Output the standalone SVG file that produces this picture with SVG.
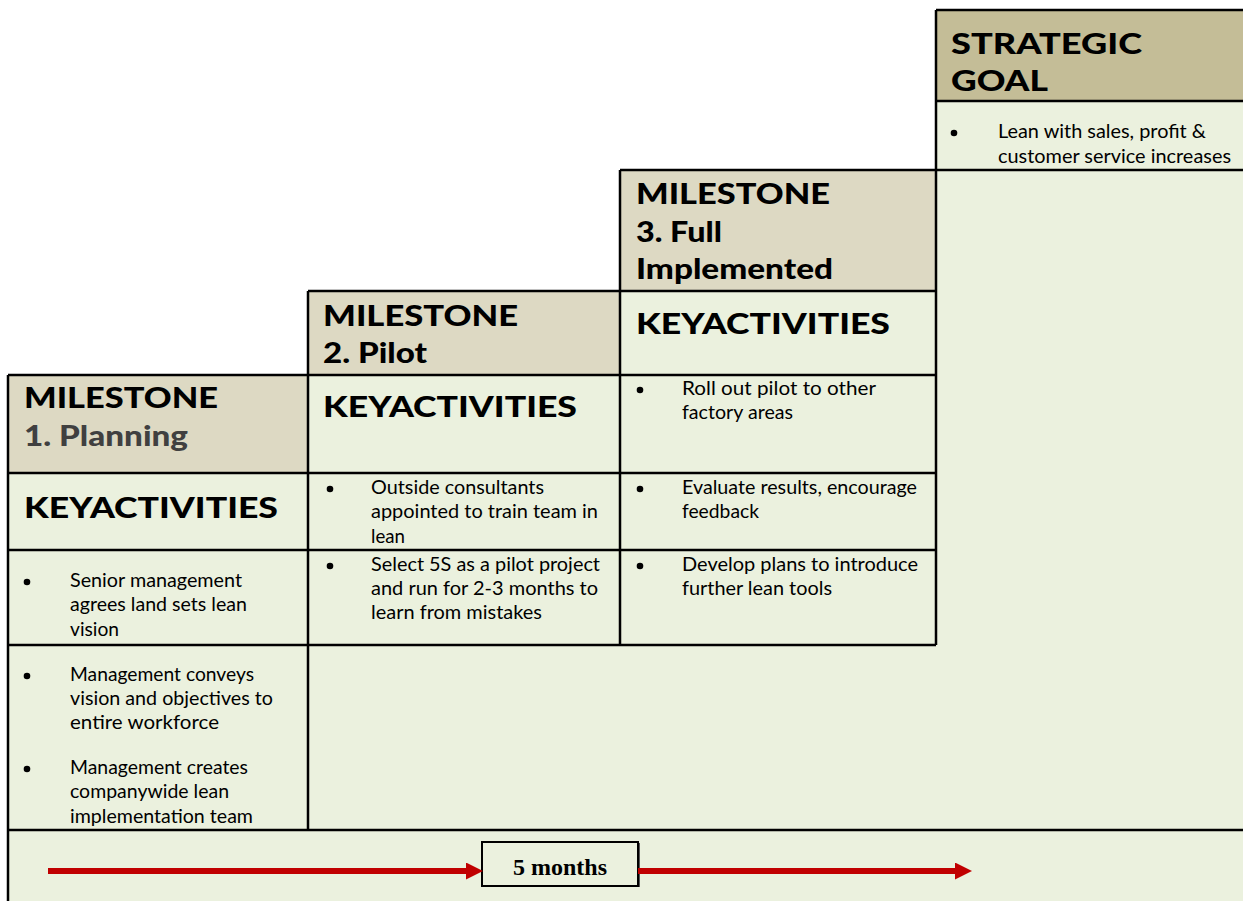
<svg xmlns="http://www.w3.org/2000/svg" width="1243" height="901" viewBox="0 0 1243 901">
  <defs>
    <style>
      .hdr { font-family: Lato, "Open Sans", "DejaVu Sans", sans-serif; font-weight: 900; font-size: 28px; fill: #000; }
      .hdr2 { fill: #404040; }
      .txt { font-family: Lato, "Open Sans", "DejaVu Sans", sans-serif; font-size: 19px; fill: #000; }
      .tan { fill: #ddd9c3; }
      .tanDark { fill: #c4bd97; }
      .green { fill: #ebf1de; }
      .grid { fill: none; stroke: #000; stroke-width: 2.5; }
      .bul { fill: #000; }
      .arrow { stroke: #c00000; stroke-width: 6; fill: none; }
      .months { font-family: "Liberation Serif", "Times New Roman", serif; font-weight: bold; font-size: 24px; fill: #000; }
    </style>
    <marker id="ah" markerUnits="userSpaceOnUse" markerWidth="18" markerHeight="18" refX="0" refY="8.5" orient="auto">
      <path d="M0,0 L17,8.5 L0,17 Z" fill="#c00000"/>
    </marker>
  </defs>

  <rect x="0" y="0" width="1243" height="901" fill="#ffffff"/>

  <!-- Strategic goal -->
  <g id="strategic-goal">
    <rect class="tanDark" x="936" y="10" width="307" height="91"/>
    <rect class="green" x="936" y="101" width="307" height="729"/>
    <text class="hdr" x="951" y="54" textLength="191" lengthAdjust="spacingAndGlyphs">STRATEGIC</text>
    <text class="hdr" x="951" y="91" textLength="97" lengthAdjust="spacingAndGlyphs">GOAL</text>
    <circle class="bul" cx="954" cy="133" r="3.3"/>
    <text class="txt" x="998" y="138" textLength="208" lengthAdjust="spacingAndGlyphs">Lean with sales, profit &amp;</text>
    <text class="txt" x="998" y="163" textLength="233" lengthAdjust="spacingAndGlyphs">customer service increases</text>
  </g>

  <!-- Milestone 3 -->
  <g id="milestone-3">
    <rect class="tan" x="620" y="170" width="316" height="121"/>
    <rect class="green" x="620" y="291" width="316" height="539"/>
    <text class="hdr" x="636" y="204" textLength="194" lengthAdjust="spacingAndGlyphs">MILESTONE</text>
    <text class="hdr" x="636" y="242" textLength="86" lengthAdjust="spacingAndGlyphs">3. Full</text>
    <text class="hdr" x="636" y="279" textLength="197" lengthAdjust="spacingAndGlyphs">Implemented</text>
    <text class="hdr" x="636" y="334" textLength="254" lengthAdjust="spacingAndGlyphs">KEYACTIVITIES</text>
    <circle class="bul" cx="640" cy="390" r="3.3"/>
    <text class="txt" x="682" y="395" textLength="194" lengthAdjust="spacingAndGlyphs">Roll out pilot to other</text>
    <text class="txt" x="682" y="419" textLength="111" lengthAdjust="spacingAndGlyphs">factory areas</text>
    <circle class="bul" cx="640" cy="489" r="3.3"/>
    <text class="txt" x="682" y="494" textLength="235" lengthAdjust="spacingAndGlyphs">Evaluate results, encourage</text>
    <text class="txt" x="682" y="518" textLength="77" lengthAdjust="spacingAndGlyphs">feedback</text>
    <circle class="bul" cx="640" cy="566" r="3.3"/>
    <text class="txt" x="682" y="571" textLength="236" lengthAdjust="spacingAndGlyphs">Develop plans to introduce</text>
    <text class="txt" x="682" y="595" textLength="150" lengthAdjust="spacingAndGlyphs">further lean tools</text>
  </g>

  <!-- Milestone 2 -->
  <g id="milestone-2">
    <rect class="tan" x="308" y="291" width="312" height="84"/>
    <rect class="green" x="308" y="375" width="312" height="455"/>
    <text class="hdr" x="323" y="326" textLength="195" lengthAdjust="spacingAndGlyphs">MILESTONE</text>
    <text class="hdr" x="323" y="363" textLength="104" lengthAdjust="spacingAndGlyphs">2. Pilot</text>
    <text class="hdr" x="323" y="417" textLength="254" lengthAdjust="spacingAndGlyphs">KEYACTIVITIES</text>
    <circle class="bul" cx="330" cy="489" r="3.3"/>
    <text class="txt" x="371" y="494" textLength="173" lengthAdjust="spacingAndGlyphs">Outside consultants</text>
    <text class="txt" x="371" y="518" textLength="227" lengthAdjust="spacingAndGlyphs">appointed to train team in</text>
    <text class="txt" x="371" y="543" textLength="34" lengthAdjust="spacingAndGlyphs">lean</text>
    <circle class="bul" cx="330" cy="566" r="3.3"/>
    <text class="txt" x="371" y="571" textLength="229" lengthAdjust="spacingAndGlyphs">Select 5S as a pilot project</text>
    <text class="txt" x="371" y="595" textLength="227" lengthAdjust="spacingAndGlyphs">and run for 2-3 months to</text>
    <text class="txt" x="371" y="619" textLength="171" lengthAdjust="spacingAndGlyphs">learn from mistakes</text>
  </g>

  <!-- Milestone 1 -->
  <g id="milestone-1">
    <rect class="tan" x="8" y="375" width="300" height="98"/>
    <rect class="green" x="8" y="473" width="300" height="357"/>
    <text class="hdr" x="24" y="408" textLength="194" lengthAdjust="spacingAndGlyphs">MILESTONE</text>
    <text class="hdr hdr2" x="24" y="446" textLength="164" lengthAdjust="spacingAndGlyphs">1. Planning</text>
    <text class="hdr" x="24" y="518" textLength="254" lengthAdjust="spacingAndGlyphs">KEYACTIVITIES</text>
    <circle class="bul" cx="27" cy="582" r="3.3"/>
    <text class="txt" x="70" y="587" textLength="172" lengthAdjust="spacingAndGlyphs">Senior management</text>
    <text class="txt" x="70" y="611" textLength="177" lengthAdjust="spacingAndGlyphs">agrees land sets lean</text>
    <text class="txt" x="70" y="636" textLength="49" lengthAdjust="spacingAndGlyphs">vision</text>
    <circle class="bul" cx="27" cy="676" r="3.3"/>
    <text class="txt" x="70" y="681" textLength="184" lengthAdjust="spacingAndGlyphs">Management conveys</text>
    <text class="txt" x="70" y="705" textLength="203" lengthAdjust="spacingAndGlyphs">vision and objectives to</text>
    <text class="txt" x="70" y="729" textLength="149" lengthAdjust="spacingAndGlyphs">entire workforce</text>
    <circle class="bul" cx="27" cy="769" r="3.3"/>
    <text class="txt" x="70" y="774" textLength="178" lengthAdjust="spacingAndGlyphs">Management creates</text>
    <text class="txt" x="70" y="798" textLength="159" lengthAdjust="spacingAndGlyphs">companywide lean</text>
    <text class="txt" x="70" y="823" textLength="183" lengthAdjust="spacingAndGlyphs">implementation team</text>
  </g>

  <!-- Timeline band -->
  <g id="timeline">
    <rect class="green" x="8" y="830" width="1235" height="71"/>
    <rect x="484" y="843" width="156" height="44" fill="#555"/>
    <rect x="482" y="842" width="156" height="44" fill="#ebf1de" stroke="#000" stroke-width="2"/>
    <text class="months" x="560" y="875" text-anchor="middle">5 months</text>
  </g>

  <!-- Table lines -->
  <g id="grid">
    <path class="grid" d="M936,10 H1243 M936,101 H1243 M620,170 H1243 M308,291 H936 M8,375 H936 M8,473 H936 M8,550 H936 M8,645 H936 M8,830 H1243 M936,10 V645 M620,170 V645 M308,291 V830 M8,375 V901"/>
  </g>

  <!-- Connectors -->
  <g id="connectors">
    <line class="arrow" x1="48" y1="871" x2="466" y2="871" marker-end="url(#ah)"/>
    <line class="arrow" x1="638" y1="871" x2="955" y2="871" marker-end="url(#ah)"/>
  </g>
</svg>
